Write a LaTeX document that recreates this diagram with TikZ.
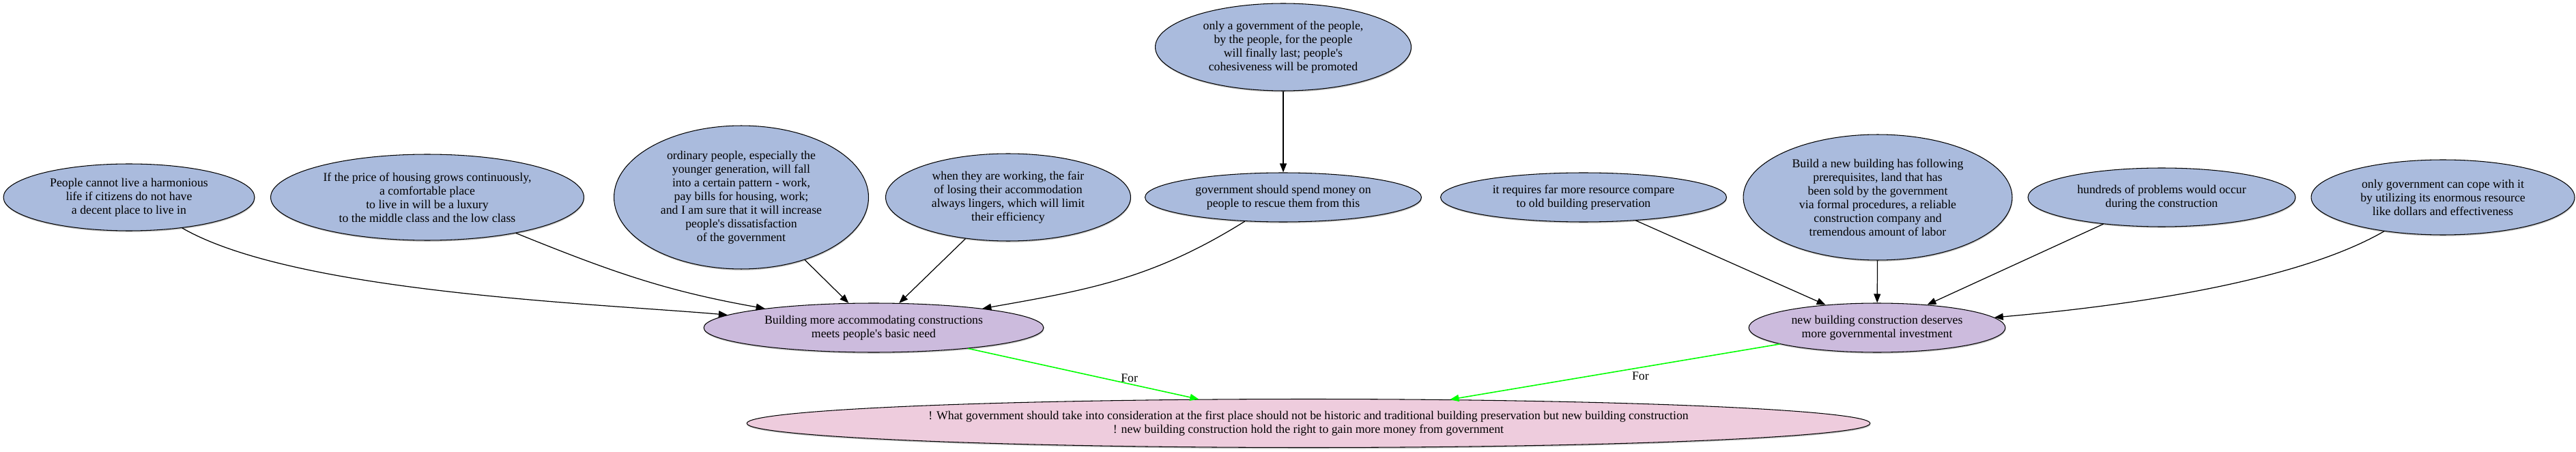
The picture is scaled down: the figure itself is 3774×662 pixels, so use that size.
\documentclass[tikz,border=0pt]{standalone}
\usepackage{fontspec}
\setmainfont{Liberation Serif}
\usepackage{tikz}
\usetikzlibrary{
  shapes.geometric,
  arrows.meta,
  positioning,
  shadows
}
\definecolor{argblue}{RGB}{170,187,221}
\definecolor{argpurple}{RGB}{204,187,221}
\definecolor{argpink}{RGB}{238,204,221}
\definecolor{arggreen}{RGB}{0,255,0}
\newcommand{\argfont}{\fontsize{10.1pt}{11.4pt}\selectfont}
\newcommand{\ap}{\textquotesingle}
\tikzset{
  premise/.style={
    ellipse, draw=black, line width=0.6pt, fill=argblue,
    inner sep=0pt, align=center, font=\argfont,
    drop shadow={shadow xshift=0.3pt, shadow yshift=-1.1pt, opacity=0.45}
  },
  reason/.style={premise, fill=argpurple},
  thesis/.style={premise, fill=argpink},
  esize/.style 2 args={minimum width=#1, minimum height=#2},
  support/.style={-{Triangle[length=0.26cm, width=0.2cm]}, line width=0.7pt, black},
  forarrow/.style={-{Triangle[length=0.26cm, width=0.2cm]}, line width=0.9pt, arggreen}
}

\begin{document}
\begin{tikzpicture}[
  x=0.02cm, y=0.02cm,
  forlabel/.style={font=\argfont, text=black, inner sep=1pt, yshift=-0.12cm}
]
\useasboundingbox (0,0) rectangle (3774,-662);

% top rank
\node[premise, esize={7.5cm}{2.56cm}] (govpeople) at (1880,-69)
  {only a government of the people,\\by the people, for the people\\will finally last; people\ap s\\cohesiveness will be promoted};

% premises
\node[premise, esize={7.36cm}{1.96cm}] (harmonious) at (189,-289)
  {People cannot live a harmonious\\life if citizens do not have\\a decent place to live in};
\node[premise, esize={9.18cm}{2.52cm}] (housingprice) at (626,-289)
  {If the price of housing grows continuously,\\a comfortable place\\to live in will be a luxury\\to the middle class and the low class};
\node[premise, esize={7.46cm}{4.2cm}] (ordinarypeople) at (1086,-289)
  {ordinary people, especially the\\younger generation, will fall\\into a certain pattern - work,\\pay bills for housing, work;\\and I am sure that it will increase\\people\ap s dissatisfaction\\of the government};
\node[premise, esize={7.18cm}{2.56cm}] (efficiency) at (1477,-289)
  {when they are working, the fair\\of losing their accommodation\\always lingers, which will limit\\their efficiency};
\node[premise, esize={8.1cm}{1.44cm}] (spendmoney) at (1880,-289)
  {government should spend money on\\people to rescue them from this};
\node[premise, esize={8.38cm}{1.44cm}] (moreresource) at (2320,-289)
  {it requires far more resource compare\\to old building preservation};
\node[premise, esize={7.88cm}{3.68cm}] (prereq) at (2751,-289)
  {Build a new building has following\\prerequisites, land that has\\been sold by the government\\via formal procedures, a reliable\\construction company and\\tremendous amount of labor};
\node[premise, esize={7.84cm}{1.72cm}] (problems) at (3167,-289)
  {hundreds of problems would occur\\during the construction};
\node[premise, esize={7.72cm}{2.2cm}] (onlygov) at (3579,-289)
  {only government can cope with it\\by utilizing its enormous resource\\like dollars and effectiveness};

% reasons and thesis
\node[reason, esize={9.96cm}{1.44cm}] (accommodate) at (1280,-480)
  {Building more accommodating constructions\\meets people\ap s basic need};
\node[reason, esize={7.52cm}{1.44cm}] (newbuilding) at (2750,-480)
  {new building construction deserves\\more governmental investment};
\node[thesis, esize={32.92cm}{1.42cm}] (thesis) at (1917,-620)
  {! What government should take into consideration at the first place should not be historic and traditional building preservation but new building construction\\! new building construction hold the right to gain more money from government};

\draw[support] (govpeople) -- (spendmoney);
\draw[support] (harmonious) to[out=-30, in=175, looseness=0.6] (accommodate);
\draw[support] (housingprice) to[out=-22, in=170] (accommodate);
\draw[support] (ordinarypeople) -- (accommodate);
\draw[support] (efficiency) -- (accommodate);
\draw[support] (spendmoney) to[out=-148, in=10] (accommodate);
\draw[support] (moreresource) -- (newbuilding);
\draw[support] (prereq) -- (newbuilding);
\draw[support] (problems) -- (newbuilding);
\draw[support] (onlygov) to[out=-150, in=5, looseness=0.7] (newbuilding);

\draw[forarrow] (accommodate) -- node[forlabel, right=1.05cm] {For} (thesis);
\draw[forarrow] (newbuilding) -- node[forlabel, right=0.45cm] {For} (thesis);
\end{tikzpicture}
\end{document}
